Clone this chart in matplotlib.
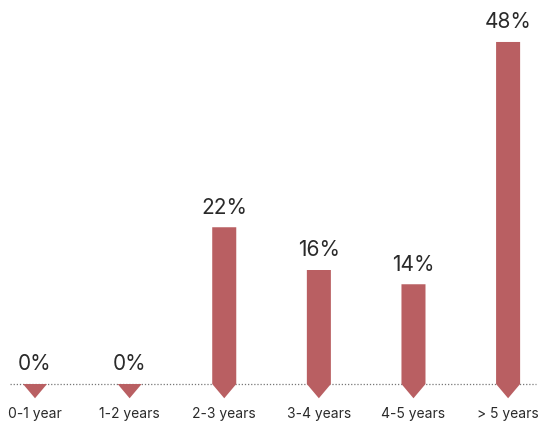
import matplotlib.pyplot as plt
import numpy as np

plt.rcParams['font.family'] = ['Inter', 'DejaVu Sans']

categories = ['0-1 year', '1-2 years', '2-3 years', '3-4 years', '4-5 years', '> 5 years']
values = [0, 0, 22, 16, 14, 48]
labels = ['0%', '0%', '22%', '16%', '14%', '48%']

barColor = '#B95F62'
barWidth = 0.254
tipDepth = 2.0

fig = plt.figure(figsize=(5.45, 4.21), dpi=100)
ax = fig.add_axes([0, 0, 1, 1])
ax.set_xlim(-0.37, 5.39)
ax.set_ylim(-5.19, 53.89)
ax.axis('off')

# gepunktete Grundlinie
ax.plot([-0.26, 5.29], [0, 0], linestyle=(0, (1, 1.5)), color='#777777', linewidth=0.9, zorder=1)

for i, val in enumerate(values):
    h = barWidth / 2
    xs = [i - h, i + h, i + h, i, i - h]
    ys = [val, val, 0, -tipDepth, 0]
    ax.fill(xs, ys, color=barColor, linewidth=0, zorder=2)
    ax.annotate(labels[i], (i, val), xytext=(0, 7), textcoords='offset points',
                ha='center', va='bottom', fontsize=15, color='#2a2a2a')
    ax.annotate(categories[i], (i, 0), xytext=(0, -16.5), textcoords='offset points',
                ha='center', va='top', fontsize=10, color='#2a2a2a')

fig.savefig('out.png', dpi=100)
